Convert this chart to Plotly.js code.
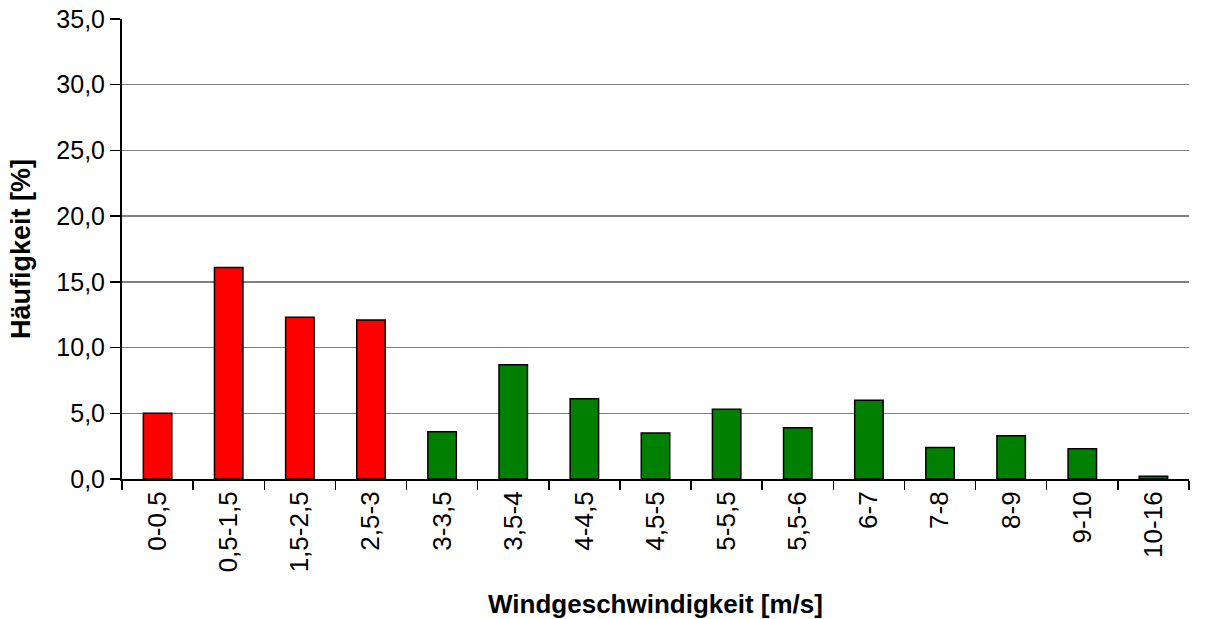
<!DOCTYPE html>
<html>
<head>
<meta charset="utf-8">
<script src="https://cdn.plot.ly/plotly-3.0.1.min.js"></script>
<style>html,body{margin:0;padding:0;background:#fff;}#chart{width:1207px;height:619px;}</style>
</head>
<body>
<div id="chart"></div>
<script>
const categories = ["0-0,5","0,5-1,5","1,5-2,5","2,5-3","3-3,5","3,5-4","4-4,5","4,5-5","5-5,5","5,5-6","6-7","7-8","8-9","9-10","10-16"];
const frequency = [5.0, 16.1, 12.3, 12.1, 3.6, 8.7, 6.1, 3.5, 5.3, 3.9, 6.0, 2.4, 3.3, 2.3, 0.2];
const yTicks = [0, 5, 10, 15, 20, 25, 30, 35];

// bins ending at or below 3 m/s are drawn red, the rest green
const upperBound = categories.map(c => parseFloat(c.split("-")[1].replace(",", ".")));
const barColors = upperBound.map(u => u <= 3 ? "#FF0000" : "#008000");

const font = "Liberation Sans, Arial, sans-serif";

const trace = {
  type: "bar",
  x: categories,
  y: frequency,
  marker: { color: barColors, line: { color: "#000000", width: 1.5 } },
  hoverinfo: "x+y"
};

const layout = {
  width: 1207,
  height: 619,
  margin: { l: 122, r: 18, t: 19, b: 140 },
  paper_bgcolor: "#ffffff",
  plot_bgcolor: "#ffffff",
  separators: ",.",
  showlegend: false,
  bargap: 0.6,
  font: { family: font, size: 25, color: "#000000" },
  xaxis: {
    type: "category",
    tickangle: -90,
    tickson: "boundaries",
    ticks: "outside",
    ticklen: 9,
    tickwidth: 1.5,
    tickcolor: "#000000",
    showline: true,
    linecolor: "#000000",
    linewidth: 2,
    showgrid: false,
    zeroline: false,
    tickfont: { family: font, size: 26, color: "#000000" },
    automargin: false,
    title: { text: "Windgeschwindigkeit [m/s]", font: { family: font, size: 26, color: "#000000", weight: "bold" }, standoff: 30 }
  },
  yaxis: {
    range: [0, 35],
    tickvals: yTicks,
    tickformat: ".1f",
    ticks: "outside",
    ticklen: 10,
    tickwidth: 1.5,
    tickcolor: "#000000",
    showline: true,
    linecolor: "#000000",
    linewidth: 2,
    showgrid: true,
    gridcolor: "#808080",
    gridwidth: 1.5,
    zeroline: false,
    tickfont: { family: font, size: 25, color: "#000000" },
    automargin: false,
    title: { text: "Häufigkeit [%]", font: { family: font, size: 27, color: "#000000", weight: "bold" }, standoff: 18 }
  }
};

Plotly.newPlot("chart", [trace], layout, { displayModeBar: false, staticPlot: true });
</script>
</body>
</html>
